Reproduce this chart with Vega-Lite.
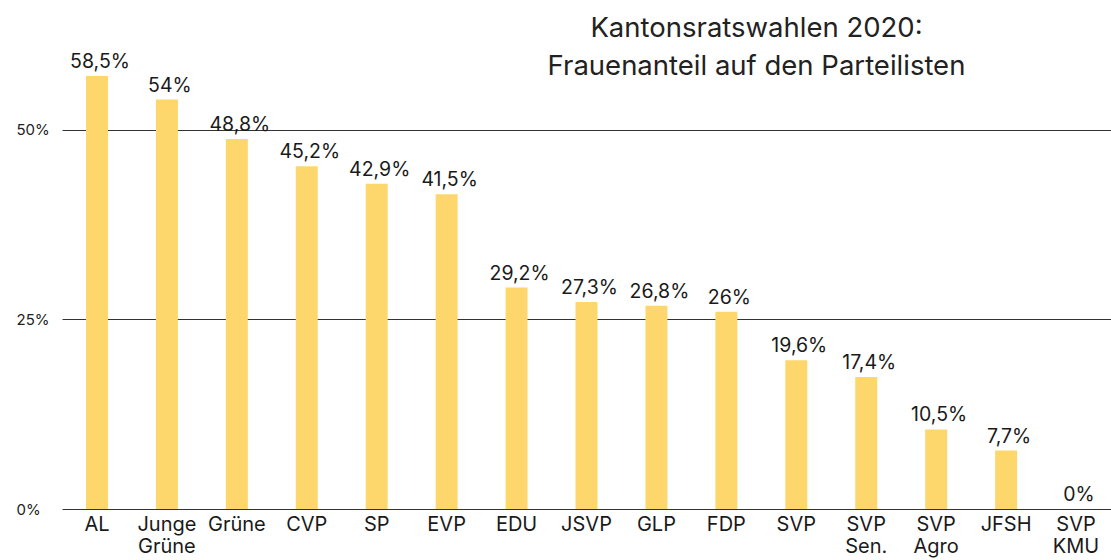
{
  "$schema": "https://vega.github.io/schema/vega-lite/v6.json",
  "autosize": "none",
  "width": 1049,
  "height": 433,
  "padding": {"left": 62, "top": 76, "right": 0, "bottom": 51},
  "background": "white",
  "config": {"view": {"stroke": null}, "font": "Inter"},
  "title": {
    "text": ["Kantonsratswahlen 2020:", "Frauenanteil auf den Parteilisten"],
    "fontSize": 27.5,
    "fontWeight": "normal",
    "color": "#222222",
    "anchor": "middle",
    "dx": 170,
    "dy": 56,
    "lineHeight": 38,
    "baseline": "bottom",
    "offset": 0
  },
  "data": {
    "values": [
      {"partei": "AL", "anteil": 58.5},
      {"partei": "Junge Grüne", "anteil": 54},
      {"partei": "Grüne", "anteil": 48.8},
      {"partei": "CVP", "anteil": 45.2},
      {"partei": "SP", "anteil": 42.9},
      {"partei": "EVP", "anteil": 41.5},
      {"partei": "EDU", "anteil": 29.2},
      {"partei": "JSVP", "anteil": 27.3},
      {"partei": "GLP", "anteil": 26.8},
      {"partei": "FDP", "anteil": 26},
      {"partei": "SVP", "anteil": 19.6},
      {"partei": "SVP Sen.", "anteil": 17.4},
      {"partei": "SVP Agro", "anteil": 10.5},
      {"partei": "JFSH", "anteil": 7.7},
      {"partei": "SVP KMU", "anteil": 0}
    ]
  },
  "transform": [
    {"calculate": "replace(toString(datum.anteil), '.', ',') + '%'", "as": "label"}
  ],
  "encoding": {
    "x": {
      "field": "partei",
      "type": "nominal",
      "sort": null,
      "scale": {"paddingInner": 0.686, "paddingOuter": 0.343},
      "axis": {
        "title": null,
        "domain": false,
        "ticks": false,
        "labelAngle": 0,
        "labelFontSize": 20,
        "labelColor": "#1a1a1a",
        "labelPadding": 5,
        "labelBaseline": "top",
        "labelLineHeight": 22,
        "labelExpr": "split(datum.value, ' ')"
      }
    },
    "y": {
      "field": "anteil",
      "type": "quantitative",
      "scale": {"domain": [0, 57.1], "clamp": true, "nice": false},
      "axis": {
        "title": null,
        "domain": false,
        "ticks": false,
        "tickSize": 0,
        "values": [0, 25, 50],
        "grid": true,
        "gridColor": "#333333",
        "gridWidth": 1,
        "gridOpacity": 1,
        "labelExpr": "datum.value + '%'",
        "labelAlign": "left",
        "labelBaseline": "middle",
        "labelPadding": 46,
        "labelFontSize": 15,
        "labelColor": "#222222"
      }
    }
  },
  "layer": [
    {"mark": {"type": "bar", "color": "#FDD66C"}},
    {
      "mark": {"type": "text", "dy": -8, "dx": 3, "baseline": "alphabetic", "fontSize": 19.5, "color": "#1a1a1a"},
      "encoding": {"text": {"field": "label"}}
    }
  ]
}
